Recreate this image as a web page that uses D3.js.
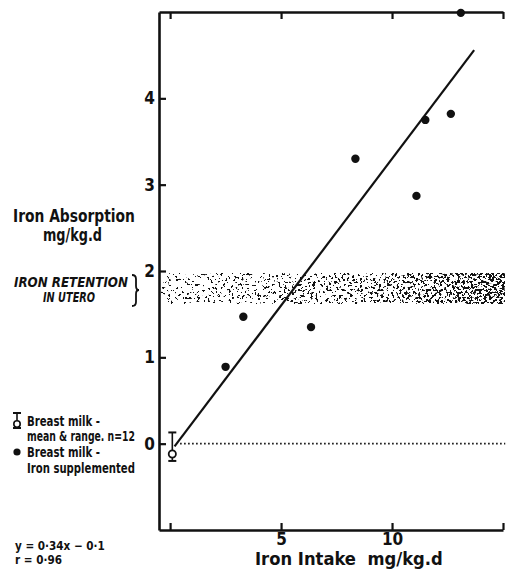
<!DOCTYPE html>
<html>
<head>
<meta charset="utf-8">
<script src="https://d3js.org/d3.v7.min.js"></script>
<style>
  body { margin: 0; background: #fff; }
  text { font-family: "Liberation Sans Narrow", "DejaVu Sans Condensed", "Roboto Condensed", sans-serif; font-stretch: condensed; font-weight: bold; fill: #111; white-space: pre; }
  .tick line { stroke: #111; stroke-width: 2.2; }
  .domain { stroke: #111; stroke-width: 2.6; }
</style>
</head>
<body>
<script>
// data
var intake = [2.5, 3.3, 6.35, 8.35, 11.1, 11.5, 12.65, 13.1];
var absorption = [0.89, 1.47, 1.35, 3.30, 2.87, 3.75, 3.82, 4.99];

// breast milk, mean and range
var milkIntake = [0.1];
var milkMean = [-0.12];
var milkLow = [-0.2];
var milkHigh = [0.13];

// regression y = 0.34x - 0.1
var fitSlope = 0.34;
var fitIntercept = -0.1;
var fitRange = [0.2, 13.7];

// iron retention in utero band
var retentionBand = [1.62, 1.98];

var xTicks = [0, 5, 10, 15];
var xTickLabels = ["", "5", "10", ""];
var yTicks = [0, 1, 2, 3, 4];

var width = 506,
    height = 569;

var svg = d3.select("body")
    .append("svg")
    .attr("width", width)
    .attr("height", height);

var xScale = d3.scaleLinear()
    .domain([-0.5, 15])
    .range([159, 503]);

var yScale = d3.scaleLinear()
    .domain([-1, 5])
    .range([530, 12]);

// helper for narrow labels: squeeze text to the width seen in the figure
function label(x, y, str, size, len, italic) {
    var g = svg.append("g");
    var t = g.append("text")
        .style("font-size", size + "px")
        .style("font-style", italic ? "italic" : "normal")
        .text(str);
    var w = t.node().getComputedTextLength();
    g.attr("transform", "translate(" + x + "," + y + ") scale(" + (len / w) + ",1)");
    return t;
}

// stipple texture for the band, denser to the right
var defs = svg.append("defs");
var grad = defs.append("linearGradient")
    .attr("id", "dens")
    .attr("x1", "0").attr("x2", "1").attr("y1", "0").attr("y2", "0");
grad.append("stop").attr("offset", "0").attr("stop-color", "rgb(92,92,92)");
grad.append("stop").attr("offset", "0.6").attr("stop-color", "rgb(106,106,106)");
grad.append("stop").attr("offset", "1").attr("stop-color", "rgb(130,130,130)");

var filt = defs.append("filter")
    .attr("id", "stipple")
    .attr("x", 0).attr("y", 0).attr("width", 1).attr("height", 1)
    .attr("color-interpolation-filters", "sRGB");
filt.append("feTurbulence")
    .attr("type", "fractalNoise")
    .attr("baseFrequency", "0.38")
    .attr("numOctaves", 2)
    .attr("seed", 7)
    .attr("result", "noise");
filt.append("feColorMatrix")
    .attr("in", "noise")
    .attr("type", "matrix")
    .attr("values", "1 0 0 0 0  1 0 0 0 0  1 0 0 0 0  0 0 0 0 1")
    .attr("result", "gray");
filt.append("feComposite")
    .attr("in", "gray")
    .attr("in2", "SourceGraphic")
    .attr("operator", "arithmetic")
    .attr("k1", 0).attr("k2", 1).attr("k3", 1).attr("k4", -1)
    .attr("result", "sum");
filt.append("feColorMatrix")
    .attr("in", "sum")
    .attr("type", "matrix")
    .attr("values", "0 0 0 0 0.07  0 0 0 0 0.07  0 0 0 0 0.07  40 0 0 0 0");

svg.append("rect")
    .attr("x", xScale(-0.45))
    .attr("y", yScale(retentionBand[1]))
    .attr("width", xScale(15.1) - xScale(-0.45))
    .attr("height", yScale(retentionBand[0]) - yScale(retentionBand[1]))
    .attr("fill", "url(#dens)")
    .attr("filter", "url(#stipple)");

// zero line
svg.append("line")
    .attr("x1", xScale(0.45))
    .attr("x2", xScale(15.1))
    .attr("y1", yScale(0))
    .attr("y2", yScale(0))
    .attr("stroke", "#111")
    .attr("stroke-width", 1.8)
    .attr("stroke-dasharray", "1.6,2.4");

// axes
var yAxis = d3.axisLeft(yScale)
    .tickValues(yTicks)
    .tickSize(-7)
    .tickSizeOuter(0)
    .tickPadding(4)
    .tickFormat(d3.format("d"));

var xAxisBottom = d3.axisBottom(xScale)
    .tickValues(xTicks)
    .tickSize(-7)
    .tickSizeOuter(0)
    .tickPadding(3)
    .tickFormat(function(d, i) { return xTickLabels[i]; });

var xAxisTop = d3.axisTop(xScale)
    .tickValues(xTicks)
    .tickSize(-7)
    .tickSizeOuter(0)
    .tickFormat("");

svg.append("g")
    .attr("transform", "translate(" + xScale(-0.5) + ",0)")
    .call(yAxis)
    .selectAll("text")
    .style("font-size", "17px");

svg.append("g")
    .attr("transform", "translate(0," + yScale(-1) + ")")
    .call(xAxisBottom)
    .selectAll("text")
    .style("font-size", "17px");

svg.append("g")
    .attr("transform", "translate(0," + yScale(5) + ")")
    .call(xAxisTop);

// regression line
svg.append("line")
    .attr("x1", xScale(fitRange[0]))
    .attr("y1", yScale(fitSlope * fitRange[0] + fitIntercept))
    .attr("x2", xScale(fitRange[1]))
    .attr("y2", yScale(fitSlope * fitRange[1] + fitIntercept))
    .attr("stroke", "#111")
    .attr("stroke-width", 2.2);

// supplemented points
svg.selectAll(".pt")
    .data(intake)
    .enter()
    .append("circle")
    .attr("class", "pt")
    .attr("cx", function(d) { return xScale(d); })
    .attr("cy", function(d, i) { return yScale(absorption[i]); })
    .attr("r", 4.2)
    .attr("fill", "#111");

// breast milk mean & range
var eb = svg.selectAll(".eb")
    .data(milkIntake)
    .enter()
    .append("g")
    .attr("class", "eb");

eb.append("line")
    .attr("x1", function(d) { return xScale(d); })
    .attr("x2", function(d) { return xScale(d); })
    .attr("y1", function(d, i) { return yScale(milkHigh[i]); })
    .attr("y2", function(d, i) { return yScale(milkLow[i]); })
    .attr("stroke", "#111").attr("stroke-width", 1.6);

[milkHigh, milkLow].forEach(function(arr) {
    eb.append("line")
        .attr("x1", function(d) { return xScale(d) - 4; })
        .attr("x2", function(d) { return xScale(d) + 4; })
        .attr("y1", function(d, i) { return yScale(arr[i]); })
        .attr("y2", function(d, i) { return yScale(arr[i]); })
        .attr("stroke", "#111").attr("stroke-width", 2);
});

eb.append("circle")
    .attr("cx", function(d) { return xScale(d); })
    .attr("cy", function(d, i) { return yScale(milkMean[i]); })
    .attr("r", 3.6)
    .attr("fill", "#fff")
    .attr("stroke", "#111")
    .attr("stroke-width", 1.8);

// y axis title
label(13, 222, "Iron Absorption", 18, 122);
label(43, 241, "mg/kg.d", 18, 59);

// band label with brace
label(14, 287, "IRON RETENTION", 14, 114, true);
label(43, 302, "IN UTERO", 14, 52, true);
svg.append("path")
    .attr("d", "M132,275 Q136,275 136,279 L136,286 Q136,290 139,290 Q136,290 136,294 L136,302 Q136,306 132,306")
    .attr("fill", "none")
    .attr("stroke", "#111")
    .attr("stroke-width", 1.8);

// legend
svg.append("line").attr("x1", 17).attr("x2", 17).attr("y1", 413).attr("y2", 428)
    .attr("stroke", "#111").attr("stroke-width", 1.6);
svg.append("line").attr("x1", 13).attr("x2", 21).attr("y1", 413).attr("y2", 413)
    .attr("stroke", "#111").attr("stroke-width", 2);
svg.append("line").attr("x1", 13).attr("x2", 21).attr("y1", 428).attr("y2", 428)
    .attr("stroke", "#111").attr("stroke-width", 2);
svg.append("circle").attr("cx", 17).attr("cy", 424).attr("r", 3.2)
    .attr("fill", "#fff").attr("stroke", "#111").attr("stroke-width", 1.6);
svg.append("circle").attr("cx", 17).attr("cy", 452).attr("r", 3.6)
    .attr("fill", "#111");

var legendLines = [
    ["Breast milk -", 426, 73],
    ["mean & range. n=12", 441, 108],
    ["Breast milk -", 457, 73],
    ["Iron supplemented", 473, 108]
];
legendLines.forEach(function(d) {
    label(27, d[1], d[0], 14, d[2]);
});

// regression note
label(15, 550, "y = 0·34x − 0·1", 12, 90);
label(15, 564, "r = 0·96", 12, 47);

// x axis title
label(255, 565, "Iron Intake  mg/kg.d", 17, 188);
</script>
</body>
</html>
